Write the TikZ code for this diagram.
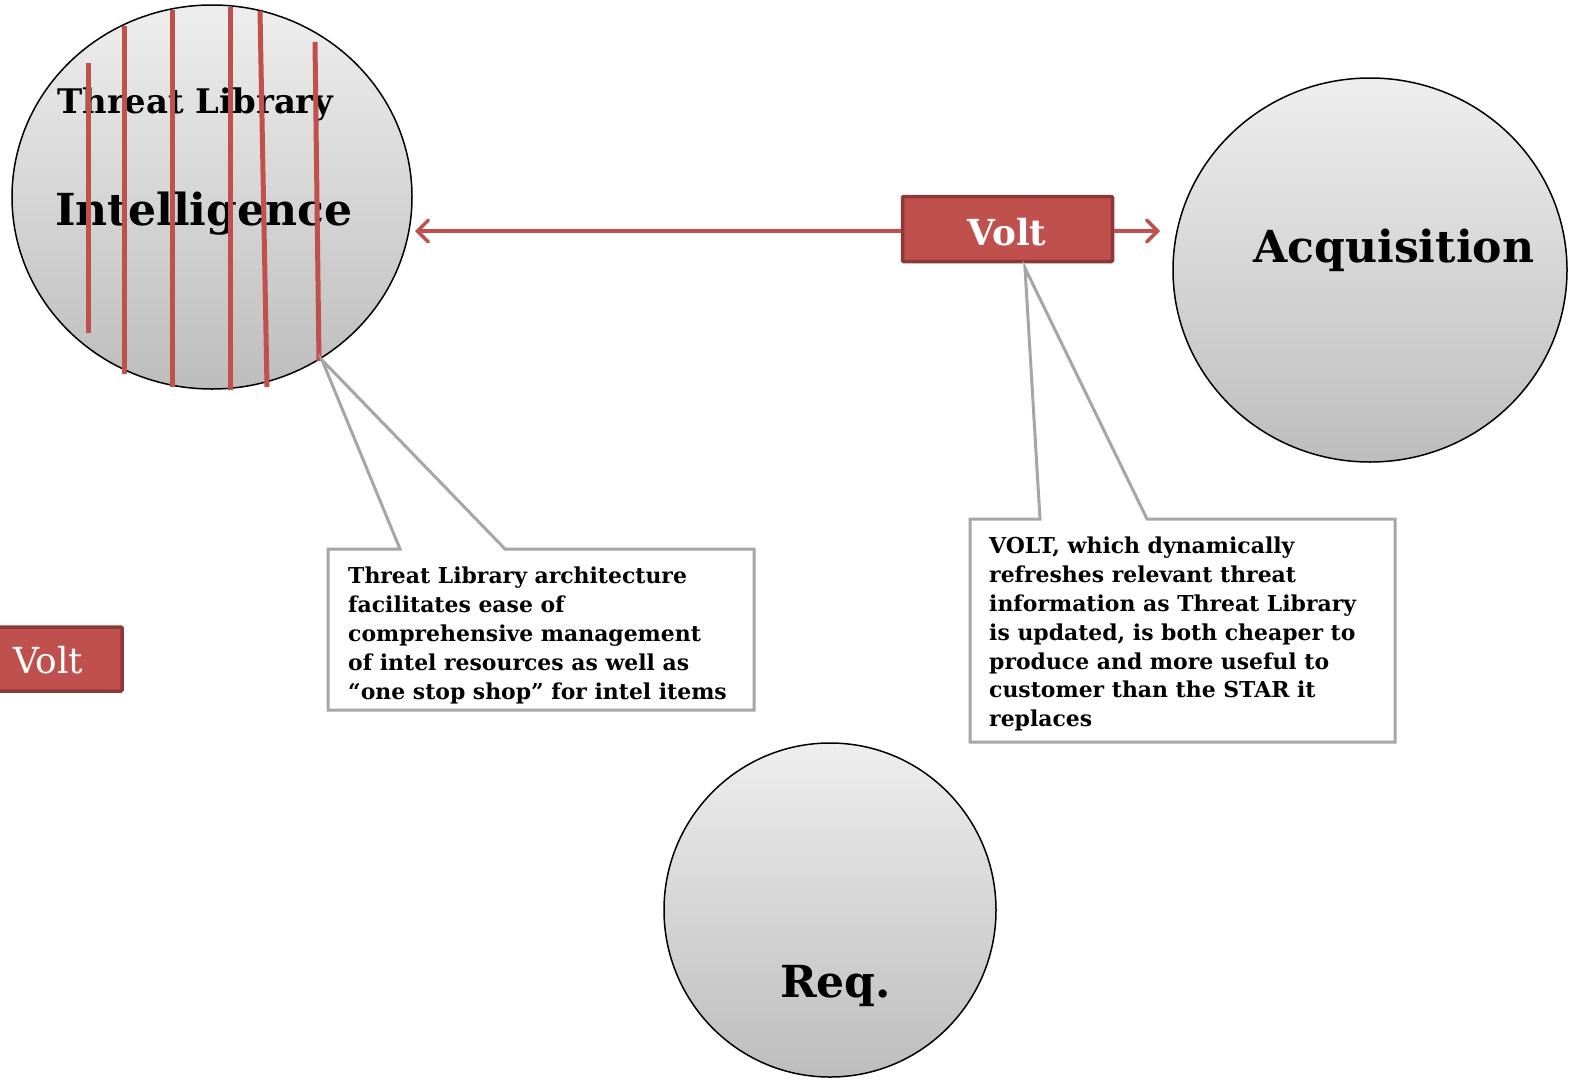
\documentclass[tikz,border=0pt]{standalone}
\usepackage{fontspec}
\setmainfont{DejaVu Serif}
\usetikzlibrary{arrows.meta,shapes.geometric}
\definecolor{voltred}{HTML}{C0504D}
\definecolor{voltdark}{HTML}{8C3836}
\definecolor{callgray}{HTML}{A6A6A6}
\definecolor{circtop}{HTML}{EEEEEE}
\definecolor{circbot}{HTML}{BDBDBD}
\tikzset{
  bubble/.style={ellipse, draw=black, line width=1.5bp, top color=circtop, bottom color=circbot, inner sep=0pt},
  voltbox/.style={draw=voltdark, line width=3.5bp, fill=voltred, rounded corners=1bp, inner sep=0pt},
  redline/.style={voltred, line width=5bp},
  callout/.style={draw=callgray, line width=3bp, fill=white},
  calltext/.style={anchor=north west, align=left, inner sep=0pt, font=\fontsize{22}{28.9}\selectfont\bfseries},
  bigbold/.style={anchor=base west, inner sep=0pt, font=\fontsize{44.3}{50}\selectfont\bfseries},
  redarrow/.style={voltred, line width=3.5bp, -{Straight Barb[length=11bp,width=22bp,line cap=round]}}
}
\begin{document}
\begin{tikzpicture}[x=1bp,y=-1bp]
\useasboundingbox (0,0) rectangle (1575,1082);
% circles
\node[bubble, minimum width=400bp, minimum height=384bp] (intel) at (212,197) {};
\node[bubble, minimum width=394bp, minimum height=384bp] (acq) at (1370,270) {};
\node[bubble, minimum width=332bp, minimum height=334bp] (req) at (830,910) {};
% circle labels
\node[anchor=base west, inner sep=0pt, font=\fontsize{34}{40}\selectfont\bfseries] (tl) at (57,113) {Threat Library};
\node[bigbold] (intl) at (55,225) {Intelligence};
\node[bigbold] (acql) at (1253,262) {Acquisition};
\node[bigbold] (reql) at (780,997) {Req.};
% red vertical lines
\coordinate (r1a) at (88,63);   \coordinate (r1b) at (88,333);
\coordinate (r2a) at (124,26);  \coordinate (r2b) at (124,374);
\coordinate (r3a) at (172,10);  \coordinate (r3b) at (172,387);
\coordinate (r4a) at (230,7);   \coordinate (r4b) at (230,390);
\coordinate (r5a) at (260,11);  \coordinate (r5b) at (267,387);
\coordinate (r6a) at (315,42);  \coordinate (r6b) at (319,361);
\foreach \i in {1,...,6} { \draw[redline] (r\i a) -- (r\i b); }
% Volt box top
\node[voltbox, minimum width=210bp, minimum height=65bp] (volt) at (1007.5,229) {};
\node[anchor=base, inner sep=0pt, text=white, font=\fontsize{36}{40}\selectfont\bfseries] (voltt) at (1007,245) {Volt};
\coordinate (lefttip) at (415,231);
\coordinate (righttip) at (1160,231);
\draw[redarrow] (volt.west |- lefttip) -- (lefttip);
\draw[redarrow] (volt.east |- righttip) -- (righttip);
% Volt box bottom-left
\node[voltbox, minimum width=134bp, minimum height=64bp] (volt2) at (55,659) {};
\node[anchor=base west, inner sep=0pt, text=white, font=\fontsize{36}{40}\selectfont] (volt2t) at (13,673) {Volt};
% callout 1
\coordinate (c1tip) at (322,360);
\draw[callout] (328,549) -- (400,549) -- (c1tip) -- (505,549) -- (754,549) -- (754,710) -- (328,710) -- cycle;
\node[calltext] (c1) at (348,567) {Threat Library architecture\\facilitates ease of\\comprehensive management\\of intel resources as well as\\“one stop shop” for intel items};
% callout 2
\coordinate (c2tip) at (1025,268);
\draw[callout] (970,519) -- (1040,519) -- (c2tip) -- (1147,519) -- (1395,519) -- (1395,742) -- (970,742) -- cycle;
\node[calltext] (c2) at (989,537) {VOLT, which dynamically\\refreshes relevant threat\\information as Threat Library\\is updated, is both cheaper to\\produce and more useful to\\customer than the STAR it\\replaces};
\end{tikzpicture}
\end{document}
